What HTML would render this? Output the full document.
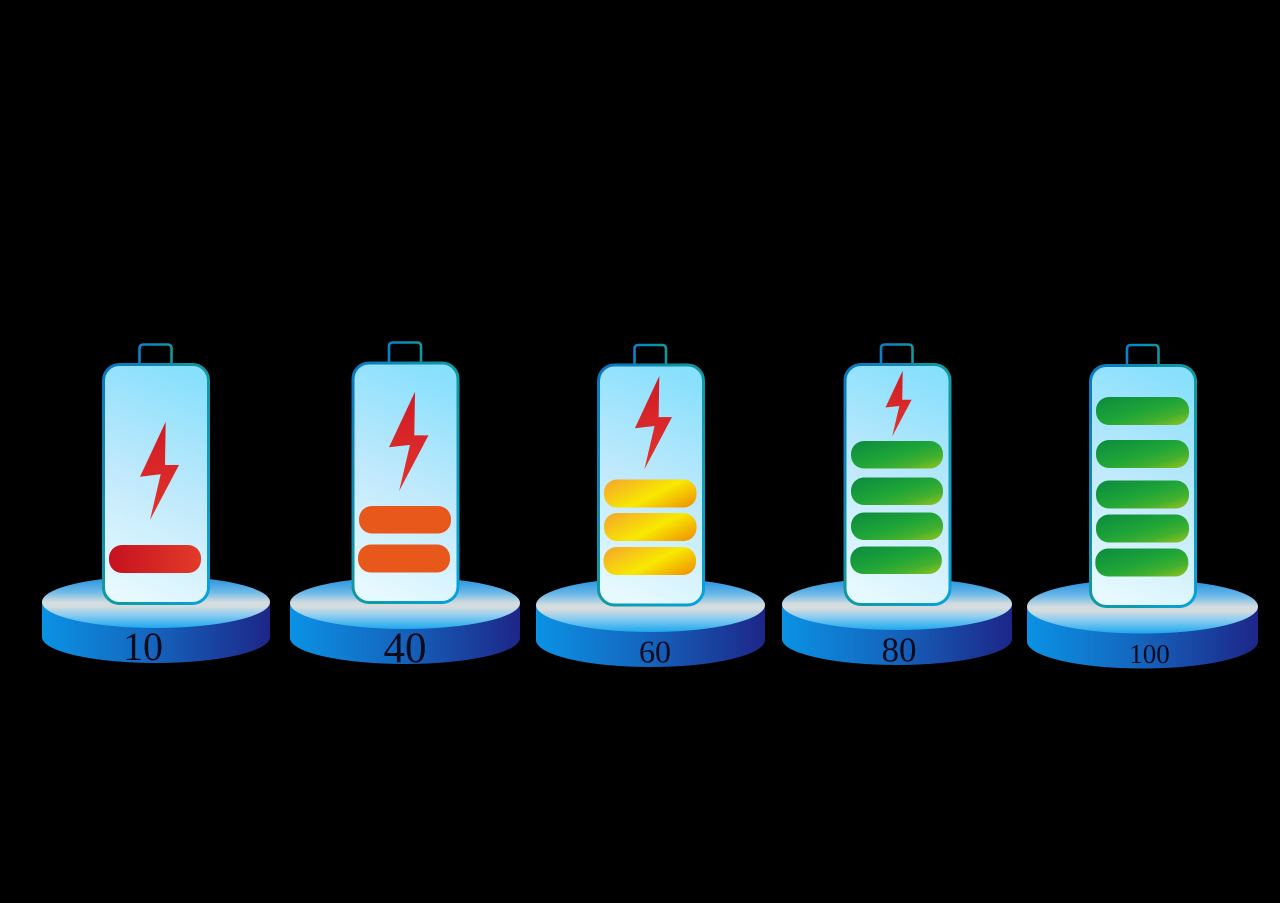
<!DOCTYPE html>
<html><head><meta charset="utf-8"><style>
html,body{margin:0;padding:0;background:#000;}
svg{display:block;}
text{font-family:"Liberation Serif",serif;fill:#0b0b1e;text-anchor:middle;}
</style></head><body>
<svg width="1280" height="903" viewBox="0 0 1280 903" xmlns="http://www.w3.org/2000/svg">
<defs>
<linearGradient id="top" x1="0" y1="0" x2="0" y2="1">
<stop offset="0" stop-color="#1f8fdc"/>
<stop offset="0.3" stop-color="#6ab8e8"/>
<stop offset="0.5" stop-color="#d2dce0"/>
<stop offset="0.58" stop-color="#d6dcde"/>
<stop offset="0.75" stop-color="#8cccf0"/>
<stop offset="1" stop-color="#1ca8ee"/>
</linearGradient>
<linearGradient id="side" x1="0" y1="0" x2="1" y2="0">
<stop offset="0" stop-color="#0a92e4"/>
<stop offset="0.45" stop-color="#1468c0"/>
<stop offset="1" stop-color="#1d2688"/>
</linearGradient>
<linearGradient id="body" x1="0.6" y1="0" x2="0.4" y2="1">
<stop offset="0" stop-color="#88e0fd"/>
<stop offset="0.5" stop-color="#bfe9fc"/>
<stop offset="1" stop-color="#e6f9fe"/>
</linearGradient>
<linearGradient id="stroke" x1="0" y1="0" x2="1" y2="1">
<stop offset="0" stop-color="#0a76c2"/>
<stop offset="0.5" stop-color="#12999e"/>
<stop offset="1" stop-color="#06a2dc"/>
</linearGradient>
<linearGradient id="term" x1="0" y1="0" x2="1" y2="0">
<stop offset="0" stop-color="#0a82c8"/>
<stop offset="1" stop-color="#12979e"/>
</linearGradient>
<linearGradient id="bolt" x1="0" y1="0" x2="0" y2="1">
<stop offset="0" stop-color="#cf1a26"/>
<stop offset="1" stop-color="#e2352c"/>
</linearGradient>
<linearGradient id="red" x1="0" y1="0" x2="1" y2="0">
<stop offset="0" stop-color="#c6111f"/>
<stop offset="1" stop-color="#e23b29"/>
</linearGradient>
<linearGradient id="yel" x1="0" y1="0.2" x2="1" y2="0.8">
<stop offset="0" stop-color="#f4ad28"/>
<stop offset="0.55" stop-color="#f8e900"/>
<stop offset="1" stop-color="#f09a00"/>
</linearGradient>
<linearGradient id="grn" x1="0" y1="0" x2="1" y2="1">
<stop offset="0" stop-color="#0b8a3e"/>
<stop offset="0.5" stop-color="#1fa538"/>
<stop offset="0.75" stop-color="#44b02e"/>
<stop offset="1" stop-color="#95c51d"/>
</linearGradient>
<path id="bp" d="M0 0 L-25.7 55 L-5 52.6 L-15.7 98.3 L13.3 43.3 L-0.7 43.3 Z"/>
</defs>

<!-- Unit 1 -->
<path d="M42 602 V637 A114 26 0 0 0 270 637 V602 Z" fill="url(#side)"/>
<ellipse cx="156" cy="602" rx="114" ry="26" fill="url(#top)"/>
<path d="M139.5 364 V348.5 Q139.5 344.5 143.5 344.5 H167.5 Q171.5 344.5 171.5 348.5 V364" fill="none" stroke="url(#term)" stroke-width="2.6"/>
<rect x="103.5" y="364.5" width="105" height="239" rx="16" fill="url(#body)" stroke="url(#stroke)" stroke-width="3"/>
<use href="#bp" transform="translate(165.7 421.7)" fill="url(#bolt)"/>
<rect x="109" y="545" width="92" height="28" rx="13" fill="url(#red)"/>
<text x="143" y="660" font-size="40">10</text>

<!-- Unit 2 -->
<path d="M290 603 V638 A115 26 0 0 0 520 638 V603 Z" fill="url(#side)"/>
<ellipse cx="405" cy="603" rx="115" ry="26" fill="url(#top)"/>
<path d="M389 362 V346.5 Q389 342.5 393 342.5 H417 Q421 342.5 421 346.5 V362" fill="none" stroke="url(#term)" stroke-width="2.6"/>
<rect x="353" y="363" width="105" height="239.5" rx="16" fill="url(#body)" stroke="url(#stroke)" stroke-width="3"/>
<use href="#bp" transform="translate(415 391.7) scale(1.01)" fill="url(#bolt)"/>
<rect x="359" y="506" width="92" height="27.5" rx="13" fill="#e8581a"/>
<rect x="358" y="544.5" width="92" height="28" rx="13" fill="#e8581a"/>
<text x="405" y="662" font-size="43">40</text>

<!-- Unit 3 -->
<path d="M536 605 V640 A114.5 27 0 0 0 765 640 V605 Z" fill="url(#side)"/>
<ellipse cx="650.5" cy="605" rx="114.5" ry="27" fill="url(#top)"/>
<path d="M634.5 364 V349 Q634.5 345 638.5 345 H662 Q666 345 666 349 V364" fill="none" stroke="url(#term)" stroke-width="2.6"/>
<rect x="598.5" y="365" width="105" height="240" rx="16" fill="url(#body)" stroke="url(#stroke)" stroke-width="3"/>
<use href="#bp" transform="translate(659.3 376) scale(0.95)" fill="url(#bolt)"/>
<rect x="604" y="479.5" width="92.5" height="28" rx="13" fill="url(#yel)"/>
<rect x="604" y="513" width="92.5" height="28" rx="13" fill="url(#yel)"/>
<rect x="603.5" y="547" width="92.5" height="28" rx="13" fill="url(#yel)"/>
<text x="655" y="662.5" font-size="32">60</text>

<!-- Unit 4 -->
<path d="M782 604 V639 A115 26 0 0 0 1012 639 V604 Z" fill="url(#side)"/>
<ellipse cx="897" cy="604" rx="115" ry="26" fill="url(#top)"/>
<path d="M881 363.5 V348.5 Q881 344.5 885 344.5 H908.5 Q912.5 344.5 912.5 348.5 V363.5" fill="none" stroke="url(#term)" stroke-width="2.6"/>
<rect x="845" y="364.5" width="105" height="240" rx="16" fill="url(#body)" stroke="url(#stroke)" stroke-width="3"/>
<use href="#bp" transform="translate(902.7 370.7) scale(0.67)" fill="url(#bolt)"/>
<rect x="851" y="441" width="92" height="27.5" rx="13" fill="url(#grn)"/>
<rect x="851" y="477.5" width="92" height="27.5" rx="13" fill="url(#grn)"/>
<rect x="851" y="512.5" width="92" height="27.5" rx="13" fill="url(#grn)"/>
<rect x="850.3" y="546.5" width="91.5" height="27.5" rx="13" fill="url(#grn)"/>
<text x="899" y="661.5" font-size="35">80</text>

<!-- Unit 5 -->
<path d="M1027 606.5 V641.5 A115.5 27 0 0 0 1258 641.5 V606.5 Z" fill="url(#side)"/>
<ellipse cx="1142.5" cy="606.5" rx="115.5" ry="27" fill="url(#top)"/>
<path d="M1127 364.5 V349 Q1127 345 1131 345 H1154.5 Q1158.5 345 1158.5 349 V364.5" fill="none" stroke="url(#term)" stroke-width="2.6"/>
<rect x="1090.5" y="365.5" width="105" height="241" rx="16" fill="url(#body)" stroke="url(#stroke)" stroke-width="3"/>
<rect x="1096" y="397" width="93" height="28" rx="13" fill="url(#grn)"/>
<rect x="1096" y="440" width="93" height="28" rx="13" fill="url(#grn)"/>
<rect x="1096" y="480.5" width="93" height="28" rx="13" fill="url(#grn)"/>
<rect x="1096" y="514.5" width="93" height="28" rx="13" fill="url(#grn)"/>
<rect x="1095.3" y="548.5" width="93" height="28" rx="13" fill="url(#grn)"/>
<text x="1149.5" y="663" font-size="27">100</text>
</svg>
</body></html>
